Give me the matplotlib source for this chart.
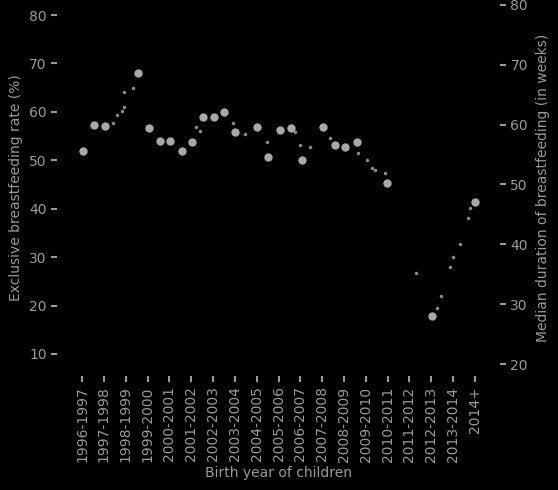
import matplotlib
matplotlib.use("Agg")
import matplotlib.pyplot as plt

# -----------------------------
# Data
# -----------------------------
year_labels = ["1996-1997", "1997-1998", "1998-1999", "1999-2000", "2000-2001",
               "2001-2002", "2002-2003", "2003-2004", "2004-2005", "2005-2006",
               "2006-2007", "2007-2008", "2008-2009", "2009-2010", "2010-2011",
               "2011-2012", "2012-2013", "2013-2014", "2014+"]
year_ticks = [1996, 1997, 1998, 1999, 2000, 2001, 2002, 2003, 2004, 2005,
              2006, 2007, 2008, 2009, 2010, 2011, 2012, 2013, 2014]

# survey waves (large points)
wave_x = [1996.05, 1996.55, 1997.05, 1998.57, 1999.07, 1999.57, 2000.03, 2000.58,
          2001.04, 2001.54, 2002.05, 2002.50, 2003.01, 2004.02, 2004.52, 2005.07,
          2005.57, 2006.08, 2007.04, 2007.59, 2008.05, 2008.60, 2009.97, 2012.03,
          2014.00]
wave_y = [52.0, 57.2, 57.0, 68.0, 56.6, 53.9, 53.9, 52.0,
          53.7, 58.9, 58.9, 59.9, 55.8, 56.8, 50.6, 56.2,
          56.6, 50.0, 56.8, 53.1, 52.7, 53.7, 45.4, 17.9,
          41.3]

# monthly estimates (small points)
month_x = [1997.42, 1997.60, 1997.83, 1997.92, 1997.94, 1998.34, 2001.22, 2001.41,
           2002.92, 2003.47, 2004.47, 2005.76, 2005.99, 2006.44, 2007.36, 2008.64,
           2009.06, 2009.28, 2009.42, 2009.88, 2011.30, 2012.26, 2012.45, 2012.86,
           2013.00, 2013.32, 2013.68, 2013.77]
month_y = [57.6, 59.3, 60.1, 60.9, 64.0, 64.9, 56.8, 56.0,
           57.8, 55.5, 53.7, 55.8, 53.1, 52.7, 54.7, 51.6,
           50.0, 48.5, 47.9, 47.3, 26.8, 19.5, 22.0, 28.0,
           30.1, 32.8, 38.0, 40.2]

left_ticks = [10, 20, 30, 40, 50, 60, 70, 80]
right_ticks = [20, 30, 40, 50, 60, 70, 80]

# -----------------------------
# Figure
# -----------------------------
fg = '#9a9a9a'
fig = plt.figure(figsize=(5.58, 4.90), dpi=100, facecolor='black')
ax = fig.add_axes([57 / 558, 114 / 490, 443 / 558, 376 / 490], facecolor='black')

ax.plot(wave_x, wave_y, 'o', color='#a8a8a8', markersize=6, markeredgewidth=0)
ax.plot(month_x, month_y, 'o', color='#8c8c8c', markersize=2.5, markeredgewidth=0)

ax.set_xlim(1994.85, 2015.15)
ax.set_ylim(5.45, 83.1)
ax.set_xticks(year_ticks)
ax.set_xticklabels(year_labels, rotation=90, fontsize=10, color=fg)
ax.set_yticks(left_ticks)
ax.set_yticklabels([str(t) for t in left_ticks], fontsize=10, color=fg)
ax.tick_params(colors=fg, width=1.5, length=4)

ax.set_xlabel('Birth year of children', fontsize=10, color=fg, labelpad=3)
ax.set_ylabel('Exclusive breastfeeding rate (%)', fontsize=10, color=fg, labelpad=4)

ax2 = ax.twinx()
ax2.set_ylim(18.0, 80.8)
ax2.set_yticks(right_ticks)
ax2.set_yticklabels([str(t) for t in right_ticks], fontsize=10, color=fg)
ax2.tick_params(colors=fg, width=1.5, length=4)
ax2.set_ylabel('Median duration of breastfeeding (in weeks)', fontsize=10,
               color=fg, labelpad=6)

for a in (ax, ax2):
    for s in a.spines.values():
        s.set_visible(False)

fig.savefig('out.png', dpi=100, facecolor='black')
